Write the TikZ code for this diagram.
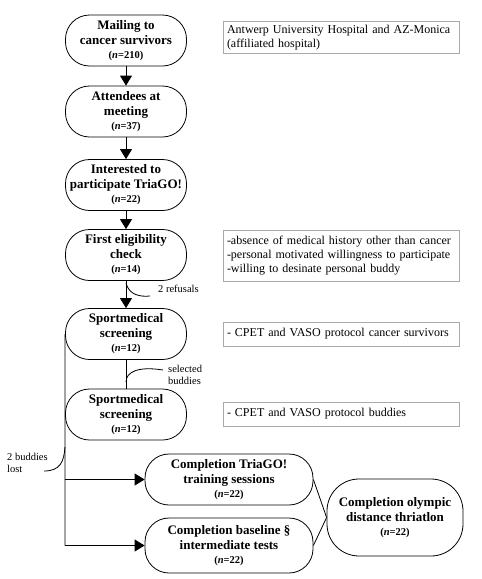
\documentclass[tikz,border=0pt]{standalone}
\usepackage{fontspec}
\setmainfont{Liberation Serif}
\usetikzlibrary{arrows.meta}
\definecolor{boxgray}{RGB}{170,170,170}
\tikzset{
  stadium/.style={draw, line width=0.8pt, rounded corners=24pt, minimum width=121pt, minimum height=51pt,
    align=center, inner sep=0pt, font=\bfseries\fontsize{13}{15}\selectfont},
  infobox/.style={draw=boxgray, line width=0.9pt, minimum width=236pt, text width=228pt, align=left,
    inner sep=4pt, font=\fontsize{12}{14}\selectfont},
  note/.style={font=\fontsize{10.5}{12}\selectfont, align=left, inner sep=0pt},
  arr/.style={line width=0.8pt, -{Triangle[length=10pt,width=12pt]}},
  ln/.style={line width=0.8pt},
}
\newcommand{\nline}[1]{\\[-1pt]{\fontsize{10.5}{12}\selectfont(\textit{n}=#1)}}
\begin{document}
\begin{tikzpicture}[x=1pt,y=-1pt]
\useasboundingbox (0,0) rectangle (482,579);
\node[stadium] (n1) at (126,40.5) {Mailing to\\cancer survivors\nline{210}};
\node[stadium] (n2) at (126,111.5) {Attendees at\\meeting\nline{37}};
\node[stadium] (n3) at (126,185) {Interested to\\participate TriaGO!\nline{22}};
\node[stadium] (n4) at (126,255) {First eligibility\\check\nline{14}};
\node[stadium] (n5) at (126,334) {Sportmedical\\screening\nline{12}};
\node[stadium] (n6) at (126,414.5) {Sportmedical\\screening\nline{12}};
\node[stadium, minimum width=168pt] (n7) at (229,479.5) {Completion TriaGO!\\training sessions\nline{22}};
\node[stadium, minimum width=168pt, minimum height=55pt] (n8) at (229,545.5) {Completion baseline §\\intermediate tests\nline{22}};
\node[stadium, minimum width=136pt, minimum height=77pt, rounded corners=32pt] (n9) at (395,517.5) {Completion olympic\\distance thriatlon\nline{22}};

\node[infobox, minimum height=31pt] (b1) at (341,37.5) {Antwerp University Hospital and AZ-Monica\\(affiliated hospital)};
\node[infobox, minimum height=51pt] (b2) at (341,255.5) {-absence of medical history other than cancer\\-personal motivated willingness to participate\\-willing to desinate personal buddy};
\node[infobox, minimum height=24pt] (b3) at (341,334) {- CPET and VASO protocol cancer survivors};
\node[infobox, minimum height=24pt] (b4) at (341,414) {- CPET and VASO protocol buddies};

\draw[arr] (n1) -- (n2);
\draw[arr] (n2) -- (n3);
\draw[arr] (n3) -- (n4);
\draw[arr] (n4) -- (n5);
\draw[ln] (n5) -- (n6);

\coordinate (rf1) at (126,283);
\coordinate (rf2) at (150,296);
\draw[ln] (rf1) .. controls (129,295) and (140,297) .. (rf2);
\node[note, anchor=west] (trf) at (158,289) {2 refusals};

\coordinate (sb1) at (126,382);
\coordinate (sb2) at (163,370);
\draw[ln] (sb1) .. controls (126,372) and (138,366) .. (sb2);
\node[note, anchor=west] (tsb) at (168,375) {selected\\buddies};

\coordinate (vb) at (65,545.5);
\coordinate (vm) at (65,479.5);
\draw[ln] (n5.west) -- (vb);
\draw[arr] (vm) -- (n7.west);
\draw[arr] (vb) -- (n8.west);

\coordinate (bl1) at (44,471);
\coordinate (bl2) at (65,447);
\draw[ln] (bl1) .. controls (60,471) and (64,462) .. (bl2);
\node[note, anchor=west] (tbl) at (7,463) {2 buddies\\lost};

\draw[ln] (n7.east) -- (n9.west);
\draw[ln] (n8.east) -- (n9.west);
\end{tikzpicture}
\end{document}
